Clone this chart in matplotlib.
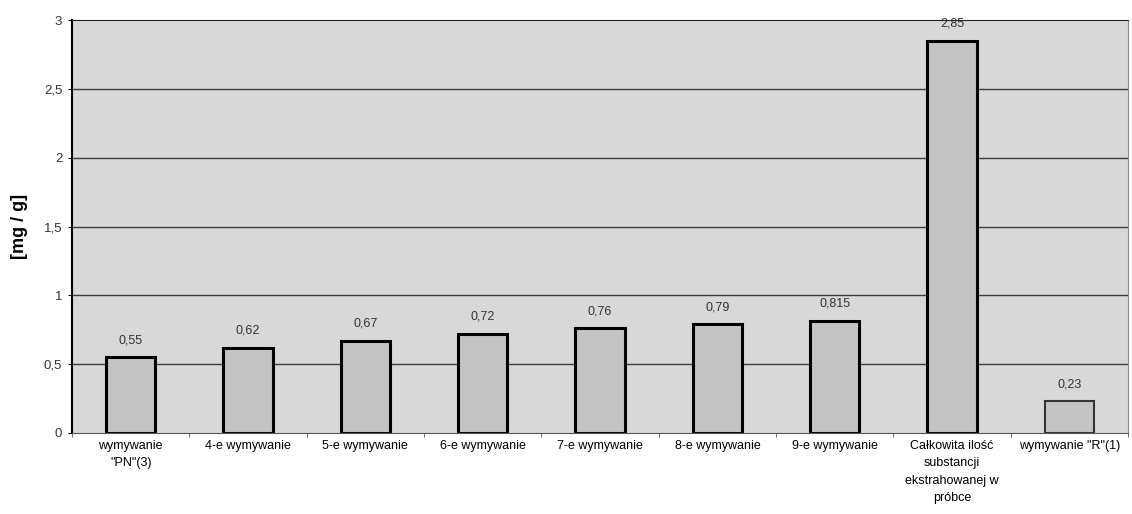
import numpy as np
import matplotlib.pyplot as plt

plt.rcParams['font.family'] = ['Liberation Sans', 'DejaVu Sans']

categories = ['wymywanie\n"PN"(3)', '4-e wymywanie', '5-e wymywanie', '6-e wymywanie',
              '7-e wymywanie', '8-e wymywanie', '9-e wymywanie',
              'Całkowita ilość\nsubstancji\nekstrahowanej w\npróbce', 'wymywanie "R"(1)']
values = [0.55, 0.62, 0.67, 0.72, 0.76, 0.79, 0.815, 2.85, 0.23]
value_labels = ['0,55', '0,62', '0,67', '0,72', '0,76', '0,79', '0,815', '2,85', '0,23']
yticks = [0, 0.5, 1, 1.5, 2, 2.5, 3]
ytick_labels = ['0', '0,5', '1', '1,5', '2', '2,5', '3']

fig = plt.figure(figsize=(11.32, 5.14), dpi=100)
ax = fig.add_axes([0.0636, 0.1576, 0.933, 0.8034])
ax.set_facecolor('#d8d8d8')

x = np.arange(len(values))
ax.set_xlim(-0.5, len(values) - 0.5)
ax.set_ylim(0, 3)

for yv in yticks[1:-1]:
    ax.axhline(yv, color='#3a3a3a', lw=1.0, zorder=1)

edges = ['black'] * (len(values) - 1) + ['#333333']
widths = [2.2] * (len(values) - 1) + [1.5]
ax.bar(x, values, width=0.42, color='#c4c4c4', edgecolor=edges, linewidth=widths, zorder=2)

for xi, v, lab in zip(x, values, value_labels):
    ax.annotate(lab, (xi, v), xytext=(0, 8), textcoords='offset points',
                ha='center', va='bottom', fontsize=9, color='#333333')

ax.set_yticks(yticks)
ax.set_yticklabels(ytick_labels, fontsize=9.5, color='#333333')
ax.set_xticks(x)
ax.set_xticklabels(categories, fontsize=9, va='top', linespacing=1.6)
ax.set_xticks(np.arange(len(values) + 1) - 0.5, minor=True)
ax.tick_params(axis='x', which='major', length=0, pad=5)
ax.tick_params(axis='x', which='minor', length=3, color='#555555')
ax.tick_params(axis='y', length=3, pad=4)

ax.spines['left'].set_color('black')
ax.spines['left'].set_linewidth(1.5)
ax.spines['bottom'].set_color('#555555')
ax.spines['bottom'].set_linestyle((0, (1, 1)))
ax.spines['top'].set_color('#222222')
ax.spines['top'].set_linestyle((0, (1, 1)))
ax.spines['right'].set_color('#888888')
ax.spines['right'].set_linestyle((0, (1, 1)))

ax.set_ylabel('[mg / g]', fontsize=13, fontweight='bold', labelpad=11)

fig.savefig('out.png', dpi=100)
